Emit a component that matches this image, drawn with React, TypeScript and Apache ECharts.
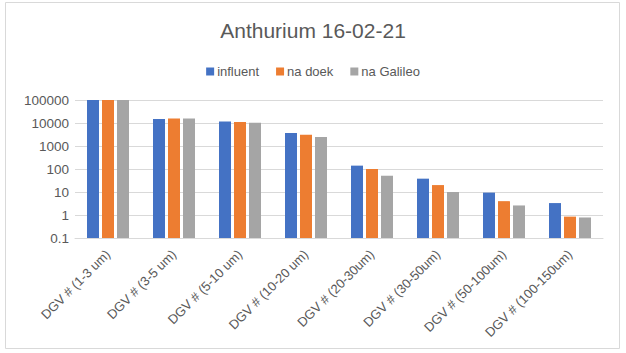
import React, { useEffect, useRef } from "react";
import * as echarts from "echarts";

const categories = [
  "DGV # (1-3 um)",
  "DGV # (3-5 um)",
  "DGV # (5-10 um)",
  "DGV # (10-20 um)",
  "DGV # (20-30um)",
  "DGV # (30-50um)",
  "DGV # (50-100um)",
  "DGV # (100-150um)",
];
const influent = [100000, 14800, 11700, 3700, 140, 38, 9.4, 3.3];
const naDoek = [100000, 15800, 11000, 3100, 100, 20, 4, 0.85];
const naGalileo = [100000, 15800, 10200, 2450, 51, 10, 2.6, 0.78];
const seriesNames = ["influent", "na doek", "na Galileo"];
const colors = ["#4472C4", "#ED7D31", "#A5A5A5"];

export default function App() {
  const ref = useRef<HTMLDivElement>(null);
  useEffect(() => {
    if (!ref.current) return;
    const chart = echarts.init(ref.current, null, { renderer: "svg" });
    const font = "Liberation Sans";
    const data = [influent, naDoek, naGalileo];
    chart.setOption({
      animation: false,
      color: colors,
      textStyle: { fontFamily: font },
      title: {
        text: "Anthurium 16-02-21",
        left: "center",
        top: 15,
        textStyle: { fontSize: 21, fontWeight: "normal", color: "#595959", fontFamily: font },
      },
      legend: {
        top: 60,
        left: "center",
        icon: "rect",
        itemWidth: 8,
        itemHeight: 8,
        itemGap: 17,
        textStyle: { fontSize: 13, color: "#595959", fontFamily: font, padding: [0, 0, 0, -2] },
        data: seriesNames,
      },
      graphic: [
        {
          type: "rect",
          shape: { x: 5.5, y: 2.5, width: 614, height: 346 },
          style: { fill: "none", stroke: "#D9D9D9", lineWidth: 1 },
          silent: true,
        },
      ],
      grid: { left: 75, right: 23, top: 100, bottom: 115, containLabel: false },
      xAxis: {
        type: "category",
        data: categories,
        axisLine: { lineStyle: { color: "#D9D9D9" } },
        axisTick: { show: false },
        axisLabel: {
          rotate: 45,
          interval: 0,
          margin: 14,
          fontSize: 13,
          color: "#595959",
          fontFamily: font,
        },
      },
      yAxis: {
        type: "log",
        logBase: 10,
        min: 0.1,
        max: 100000,
        startValue: 0.1,
        axisLine: { show: false },
        axisTick: { show: false },
        splitLine: { lineStyle: { color: "#D9D9D9", width: 1 } },
        axisLabel: {
          fontSize: 13.5,
          color: "#595959",
          fontFamily: font,
          margin: 6,
          formatter: (v: number) => String(parseFloat(v.toPrecision(6))),
        },
      },
      series: seriesNames.map((name, i) => ({
        name,
        type: "bar",
        data: data[i],
        barWidth: 12,
        barGap: "25%",
        itemStyle: { color: colors[i] },
      })),
    });
    return () => chart.dispose();
  }, []);
  return <div ref={ref} style={{ width: 626, height: 353, position: "absolute", left: 0, top: 0 }} />;
}
